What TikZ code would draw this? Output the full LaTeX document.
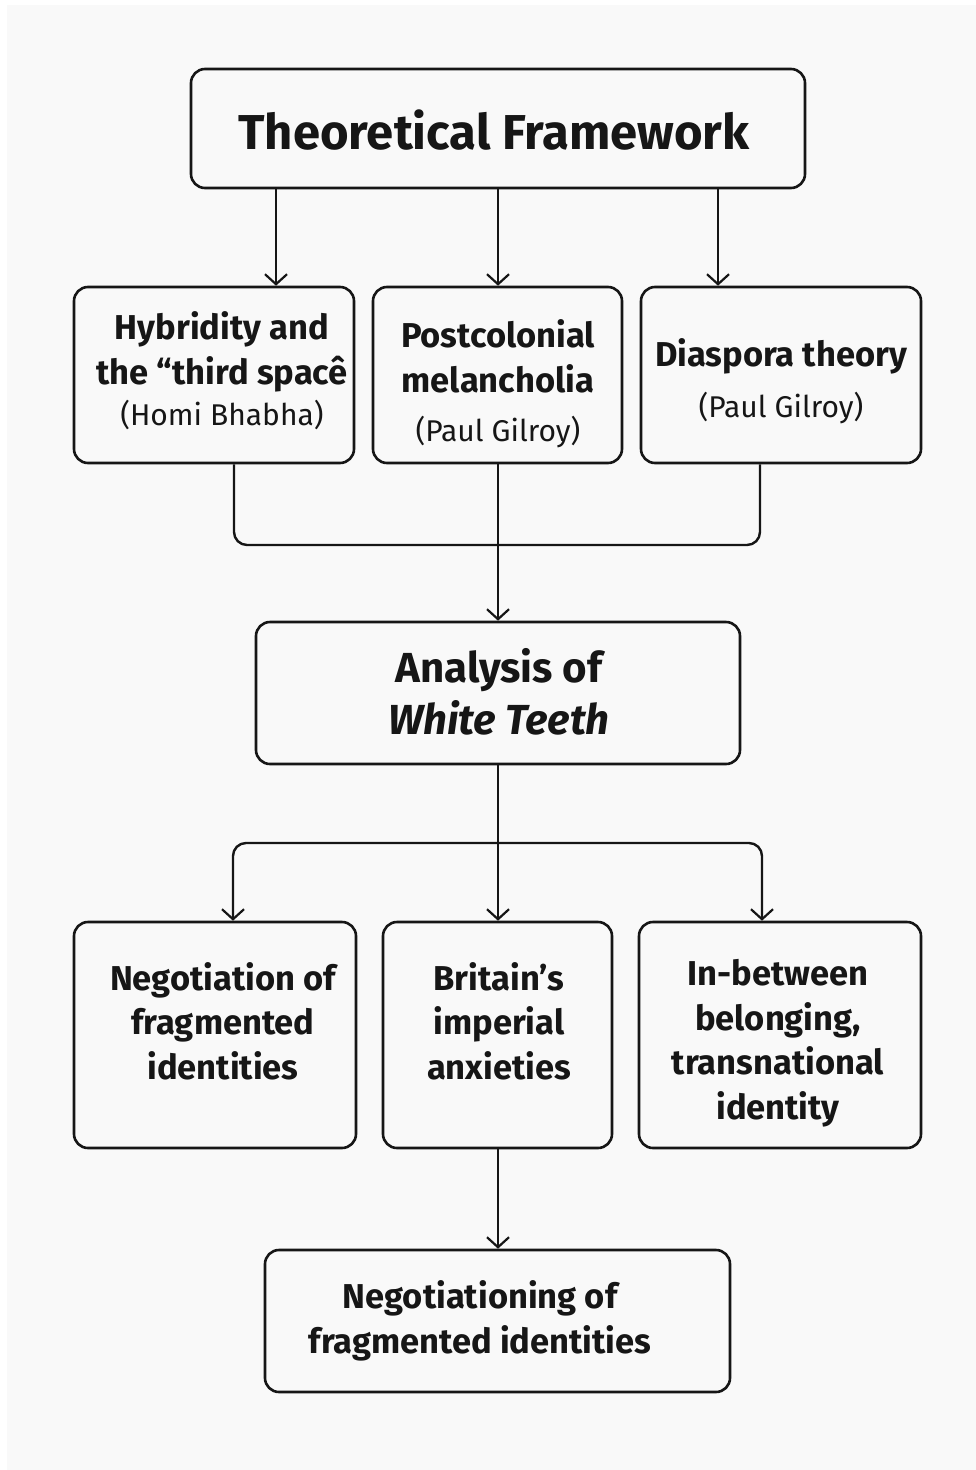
\documentclass[tikz,border=0pt]{standalone}
\usepackage{fontspec}
\setmainfont{Fira Sans}
\usetikzlibrary{arrows.meta}
\definecolor{bg}{HTML}{F9F9F9}
\definecolor{ink}{HTML}{161616}
\begin{document}
\begin{tikzpicture}[x=1pt,y=-1pt,
  box/.style={draw=ink, line width=2.6pt, rounded corners=14pt, fill=bg, inner sep=0pt},
  lbl/.style={text=ink, align=center, font=\fontsize{34.5}{44.5}\selectfont\bfseries, inner sep=0pt},
  arr/.style={draw=ink, line width=2.4pt, -{Straight Barb[length=10pt,width=22pt,line width=2.2pt]}},
  link/.style={draw=ink, line width=2.4pt, rounded corners=13pt}]
\newcommand{\subline}[1]{{\mdseries\fontsize{30}{34}\selectfont #1}}
% background
\fill[white] (0,0) rectangle (976,1470);
\fill[bg] (7,5) rectangle (976,1470);
\useasboundingbox (0,0) rectangle (976,1470);

% boxes
\node[box, minimum width=614pt, minimum height=119pt] (top) at (498,128.5) {};
\node[box, minimum width=280pt, minimum height=176pt] (b1) at (214,375) {};
\node[box, minimum width=249pt, minimum height=176pt] (b2) at (497.5,375) {};
\node[box, minimum width=280pt, minimum height=176pt] (b3) at (781,375) {};
\node[box, minimum width=484pt, minimum height=142pt] (ana) at (498,693) {};
\node[box, minimum width=282pt, minimum height=226pt] (b4) at (215,1035) {};
\node[box, minimum width=229pt, minimum height=226pt] (b5) at (497.5,1035) {};
\node[box, minimum width=282pt, minimum height=226pt] (b6) at (780,1035) {};
\node[box, minimum width=465pt, minimum height=142pt] (fin) at (497.5,1321) {};

% texts
\node[lbl, font=\fontsize{49}{56}\selectfont\bfseries] (ttop) at (494,130) {Theoretical Framework};
\node[lbl] (t1) at (222,371) {Hybridity and\\the “third spacê\\[-3pt]\subline{(Homi Bhabha)}};
\node[lbl] (t2) at (498,384) {Postcolonial\\melancholia\\[5pt]\subline{(Paul Gilroy)}};
\node[lbl] (t3) at (781,381) {Diaspora theory\\[6pt]\subline{(Paul Gilroy)}};
\node[lbl, font=\fontsize{42}{52}\selectfont\bfseries] (tana) at (499,692) {Analysis of\\\textit{White Teeth}};
\node[lbl] (t4) at (223,1021) {Negotiation of\\fragmented\\identities};
\node[lbl] (t5) at (499,1021) {Britain’s\\imperial\\anxieties};
\node[lbl] (t6) at (778,1043) {In-between\\belonging,\\transnational\\identity};
\node[lbl] (tfin) at (480,1321) {Negotiationing of\\fragmented identities};

% connector coordinates
\coordinate (x1) at (276,0);
\coordinate (x3) at (718,0);
\coordinate (busL) at (234,545);
\coordinate (busR) at (760,545);
\coordinate (bus2L) at (233,843);
\coordinate (bus2R) at (762,843);

% top to three theory boxes
\draw[arr] (top.south -| x1) -- (b1.north -| x1);
\draw[arr] (top.south -| ana.north) -- (b2.north -| ana.north);
\draw[arr] (top.south -| x3) -- (b3.north -| x3);

% merge to analysis
\draw[link] (b1.south -| busL) -- (busL) -- (busR) -- (b3.south -| busR);
\draw[arr] (b2.south -| ana.north) -- (ana.north);

% analysis to three outcome boxes
\draw[arr] (ana.south) -- (b5.north -| ana.south);
\draw[arr, rounded corners=13pt] (ana.south |- bus2L) -- (bus2L) -- (b4.north -| bus2L);
\draw[arr, rounded corners=13pt] (ana.south |- bus2R) -- (bus2R) -- (b6.north -| bus2R);

% to final
\draw[arr] (b5.south -| ana.south) -- (fin.north -| ana.south);
\end{tikzpicture}
\end{document}
